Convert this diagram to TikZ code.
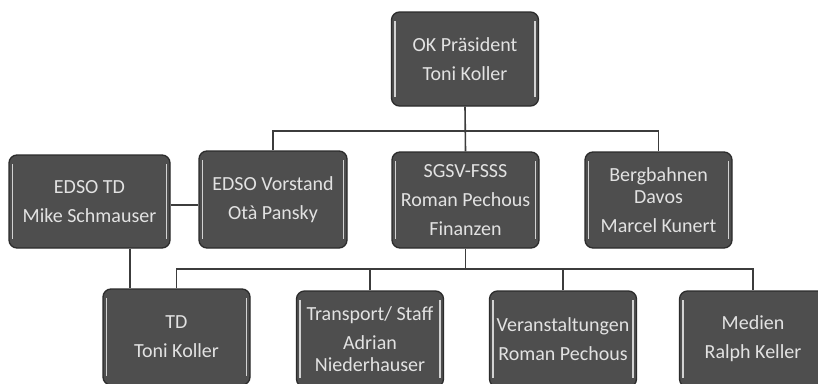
\documentclass[tikz,border=0pt]{standalone}
\usepackage{fontspec}
\setmainfont{Carlito}
\definecolor{boxfill}{HTML}{4E4E4E}
\definecolor{boxedge}{HTML}{2C2C2C}
\definecolor{boxtext}{HTML}{E2E2E2}
\definecolor{linecol}{HTML}{3C3C3C}
\tikzset{
  orgbox/.style={
    rounded corners=8pt, fill=boxfill, draw=boxedge, line width=1.3pt,
    text=boxtext, align=center, minimum height=96pt, minimum width=147pt,
    inner sep=2pt,
    font=\fontsize{20}{22}\selectfont,
    path picture={
      \draw[gray!35!white, line width=1.4pt]
        ([xshift=3.5pt,yshift=-9pt]path picture bounding box.north west) --
        ([xshift=3.5pt,yshift=9pt]path picture bounding box.south west);
      \draw[gray!35!white, line width=1.4pt]
        ([xshift=-3.5pt,yshift=-9pt]path picture bounding box.north east) --
        ([xshift=-3.5pt,yshift=9pt]path picture bounding box.south east);
    }
  },
  conn/.style={draw=linecol, line width=1.6pt}
}
\begin{document}
\begin{tikzpicture}[x=1pt,y=-1pt]
\useasboundingbox[fill=white] (0,0) rectangle (818,383);
\node[orgbox, minimum height=94pt] (ok) at (465,59) {OK Präsident\\[7pt]Toni Koller};
\node[orgbox, minimum width=161pt, minimum height=93pt] (edsotd) at (89.5,201.5) {EDSO TD\\[7pt]Mike Schmauser};
\node[orgbox, minimum width=148pt, minimum height=97pt] (vorstand) at (273,199.5) {EDSO Vorstand\\[7pt]Otà Pansky};
\node[orgbox] (sgsv) at (465.5,200) {SGSV-FSSS\\[7pt]Roman Pechous\\[7pt]Finanzen};
\node[orgbox] (berg) at (658.5,200) {Bergbahnen\\Davos\\[7pt]Marcel Kunert};
\node[orgbox] (td) at (176.5,337) {TD\\[7pt]Toni Koller};
\node[orgbox] (transport) at (370,339) {Transport/ Staff\\[7pt]Adrian\\Niederhauser};
\node[orgbox] (veranst) at (563,339) {Veranstaltungen\\[7pt]Roman Pechous};
\node[orgbox] (medien) at (753,339) {Medien\\[7pt]Ralph Keller};
\coordinate (bus1) at (465.5,131);
\coordinate (bus2) at (465.5,269);
\coordinate (tdline) at (130,0);
\draw[conn] (ok.south) -- (sgsv.north);
\draw[conn] (vorstand.north) |- (bus1) -| (berg.north);
\draw[conn] (edsotd.east |- 0,205) -- (vorstand.west |- 0,205);
\draw[conn] (sgsv.south) -- (bus2);
\draw[conn] (td.north) |- (bus2) -| (medien.north);
\draw[conn] (transport.north) -- (transport.north |- bus2);
\draw[conn] (veranst.north) -- (veranst.north |- bus2);
\draw[conn] (edsotd.south -| tdline) -- (td.north -| tdline);
\end{tikzpicture}
\end{document}
